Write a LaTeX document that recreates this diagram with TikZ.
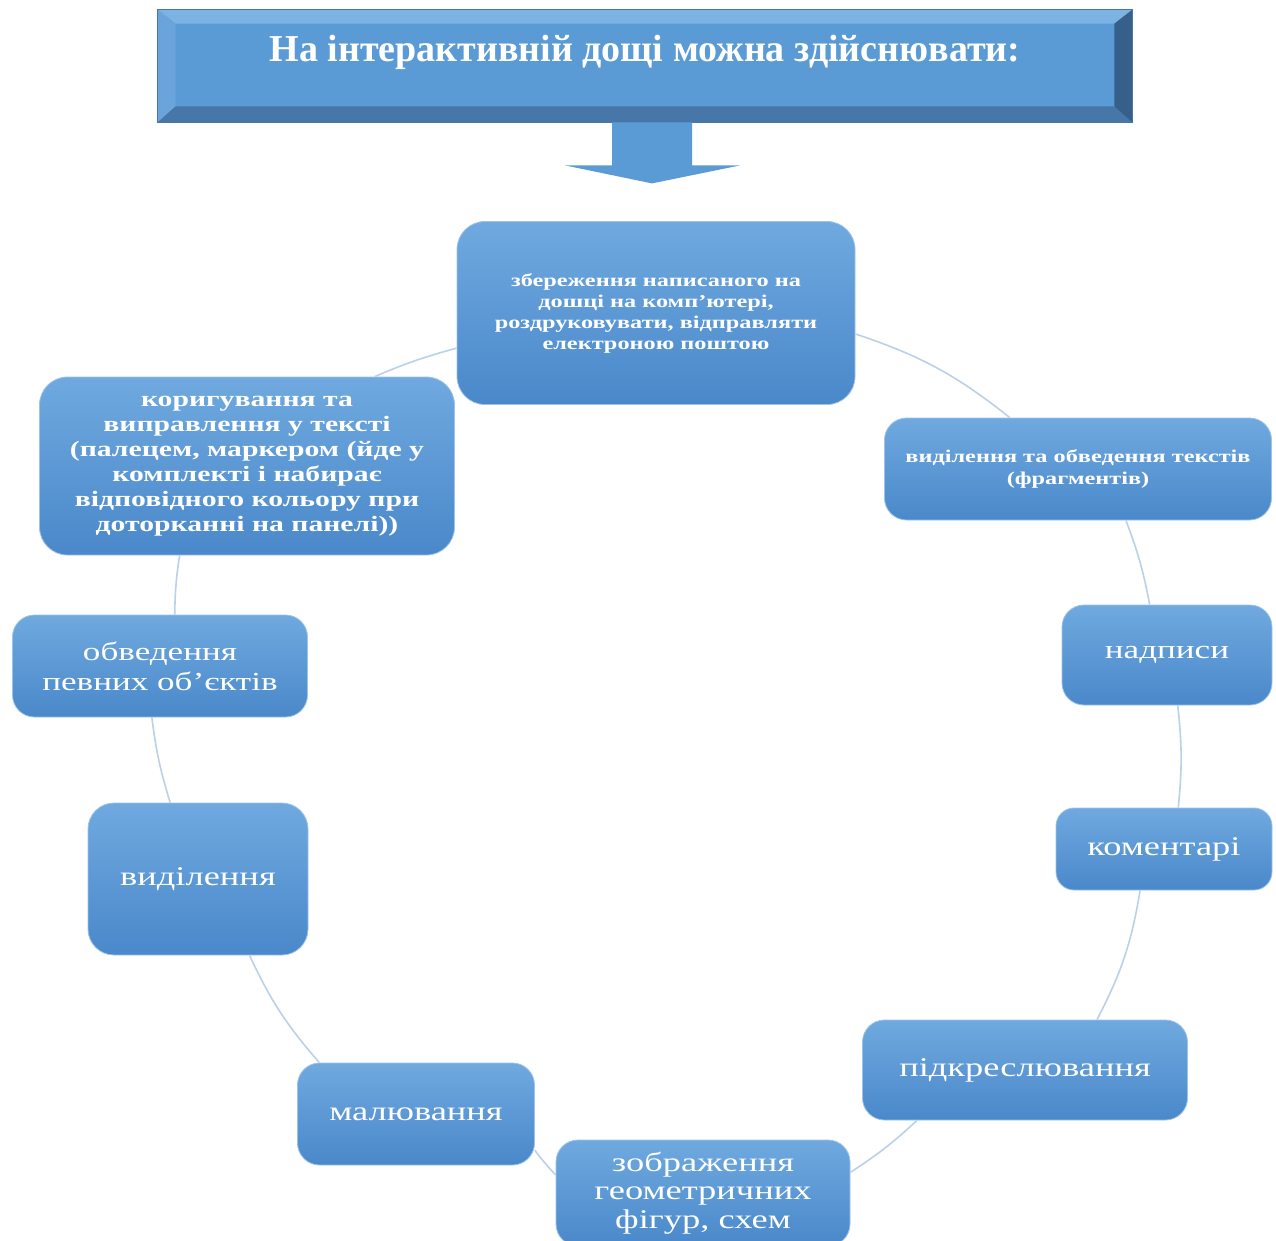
\documentclass[tikz,border=0pt]{standalone}
\usepackage{fontspec}
\setmainfont{Liberation Serif}[FakeStretch=1.35]
\newfontfamily\titlefont{Liberation Serif}
\usetikzlibrary{calc}
\definecolor{face}{HTML}{5B9BD5}
\definecolor{nodetop}{HTML}{6FA9DF}
\definecolor{nodebot}{HTML}{4A88CA}
\definecolor{nodeedge}{HTML}{9CC3EA}
\definecolor{bevtop}{HTML}{7DB3E3}
\definecolor{bevleft}{HTML}{6AA4DA}
\definecolor{bevbot}{HTML}{4677A8}
\definecolor{bevright}{HTML}{365F8A}
\definecolor{conncol}{HTML}{BCD0E8}
\tikzset{
  box/.style={rounded corners=22pt, top color=nodetop, bottom color=nodebot,
    draw=nodeedge, line width=0.8pt, text=white, align=center, inner sep=2pt},
  conn/.style={draw=conncol, line width=1.6pt}
}
\begin{document}
\begin{tikzpicture}[x=1pt,y=1pt]
\useasboundingbox[fill=white] (0,0) rectangle (1276,-1240);

% title box
\node[fill=face, draw=bevbot, line width=0.8pt, minimum width=974pt, minimum height=112pt,
      text=white, text height=30pt, text depth=40pt,
      font=\titlefont\fontsize{38}{42}\selectfont\bfseries] (title) at (645,-66)
      {На інтерактивній дощі можна здійснювати:};
\fill[bevtop] (title.north west) -- (title.north east) -- ($(title.north east)+(-18,-14)$) -- ($(title.north west)+(18,-14)$) -- cycle;
\fill[bevleft] (title.north west) -- ($(title.north west)+(18,-14)$) -- ($(title.south west)+(18,16)$) -- (title.south west) -- cycle;
\fill[bevbot] (title.south west) -- ($(title.south west)+(18,16)$) -- ($(title.south east)+(-18,16)$) -- (title.south east) -- cycle;
\fill[bevright] (title.north east) -- ($(title.north east)+(-18,-14)$) -- ($(title.south east)+(-18,16)$) -- (title.south east) -- cycle;
\draw[bevbot, line width=0.8pt] (title.north west) rectangle (title.south east);

% down arrow
\fill[face] ($(title.south)+(-33,0)$) -- ($(title.south)+(47,0)$) -- ($(title.south)+(47,-43)$)
  -- ($(title.south)+(95,-43)$) -- ($(title.south)+(7,-61)$) -- ($(title.south)+(-80,-43)$)
  -- ($(title.south)+(-33,-43)$) -- cycle;

% nodes
\node[box, font={\fontsize{18}{21}\selectfont\bfseries}, minimum width=398pt, minimum height=183pt, rounded corners=28pt] (save) at (656,-313)
  {збереження написаного на\\дошці на комп'ютері,\\роздруковувати, відправляти\\електроною поштою};
\node[box, font={\fontsize{22}{25}\selectfont\bfseries}, minimum width=415pt, minimum height=178pt, rounded corners=28pt] (lt) at (247,-466)
  {коригування та\\виправлення у тексті\\(палецем, маркером (йде у\\комплекті і набирає\\відповідного кольору при\\доторканні на панелі))};
\node[box, font={\fontsize{18}{22}\selectfont\bfseries}, minimum width=387pt, minimum height=102pt] (rt) at (1078,-469)
  {виділення та обведення текстів\\(фрагментів)};
\node[box, font={\fontsize{26}{30}\selectfont}, minimum width=210pt, minimum height=100pt] (nad) at (1167,-655) {надписи};
\node[box, font={\fontsize{27}{30}\selectfont}, minimum width=216pt, minimum height=82pt, rounded corners=18pt] (kom) at (1164,-849) {коментарі};
\node[box, font={\fontsize{27}{30}\selectfont}, minimum width=325pt, minimum height=100pt] (pid) at (1025,-1070) {підкреслювання};
\node[box, font={\fontsize{27}{28.5}\selectfont}, minimum width=294pt, minimum height=106pt] (zob) at (703,-1193)
  {зображення\\геометричних\\фігур, схем};
\node[box, font={\fontsize{27}{28}\selectfont}, minimum width=237pt, minimum height=102pt] (mal) at (416,-1114) {малювання};
\node[box, font={\fontsize{27}{30}\selectfont}, minimum width=220pt, minimum height=152pt, rounded corners=26pt] (vyd) at (198,-879) {виділення};
\node[box, font={\fontsize{26}{30}\selectfont}, minimum width=295pt, minimum height=102pt] (obv) at (160,-666)
  {обведення\\певних об'єктів};

% connectors (cycle)
\draw[conn] (save.-6) to[bend left=10] (rt.143);
\draw[conn] (rt.-47) to[bend left=5] (nad.109);
\draw[conn] (nad.-78) to[bend left=6] (kom.71);
\draw[conn] (kom.240) to[bend left=9] (pid.35);
\draw[conn] (pid.205) to[bend left=5] (zob.8);
\draw[conn] (zob.173) to[bend left=3] (mal.-17);
\draw[conn] (mal.152) to[bend left=8] (vyd.-56);
\draw[conn] (vyd.110) to[bend left=5] (obv.261);
\draw[conn] (obv.74) to[bend left=4] (lt.233);
\draw[conn] (lt.35) to[bend left=4] (save.190);
\end{tikzpicture}
\end{document}
